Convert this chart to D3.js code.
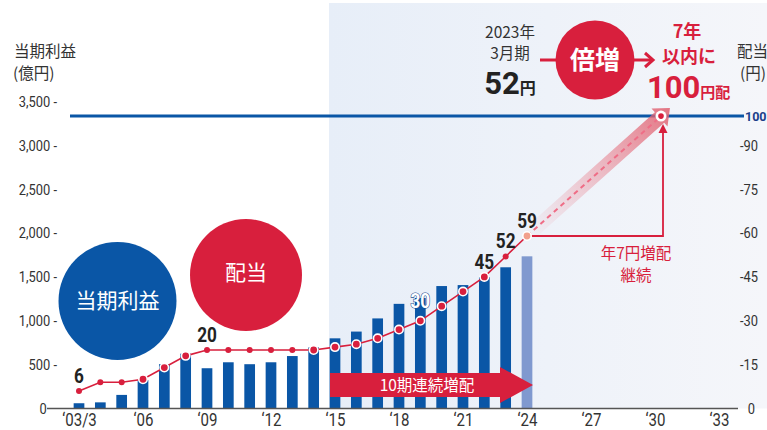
<!DOCTYPE html>
<html>
<head>
<meta charset="utf-8">
<script src="https://cdn.jsdelivr.net/npm/d3@7"></script>
<style>
body { margin: 0; background: #fff; }
svg { display: block; }
</style>
</head>
<body>
<div id="main"></div>
<script>
// data
var years = [2003, 2004, 2005, 2006, 2007, 2008, 2009, 2010, 2011, 2012, 2013,
             2014, 2015, 2016, 2017, 2018, 2019, 2020, 2021, 2022, 2023, 2024];
var profit = [60, 70, 155, 324, 505, 625, 459, 527, 505, 527, 598,
              696, 800, 877, 1027, 1193, 1260, 1396, 1407, 1498, 1610, 1735];
var dividend = [6, 9, 9, 10, 14, 18, 20, 20, 20, 20, 20,
                20, 21, 22, 24, 27, 30, 35, 40, 45, 52, 59];
var forecastYear = 2024;
var tickYears = [2003, 2006, 2009, 2012, 2015, 2018, 2021, 2024, 2027, 2030, 2033];
var tickLabels = ['‘03/3', '‘06', '‘09', '‘12', '‘15', '‘18', '‘21', '‘24', '‘27', '‘30', '‘33'];
var leftTicks = [0, 500, 1000, 1500, 2000, 2500, 3000, 3500];
var rightTicks = [0, 15, 30, 45, 60, 75, 90];
var calloutYears = [2003, 2009, 2019, 2022, 2023, 2024];
var targetYear = 2030, targetDividend = 100;

var W = 767, H = 430;
var red = '#d81f3d', blue = '#0a56a6';
var num = '"Roboto", sans-serif';
var jp = '"Noto Sans CJK JP", "Noto Sans", sans-serif';

var x = d3.scaleLinear().domain([2003, 2033]).range([79, 719]);
var yL = d3.scaleLinear().domain([0, 3500]).range([408.5, 101.5]);
var yR = d3.scaleLinear().domain([0, 105]).range([408.5, 101.5]);
var barW = 10.7;

var svg = d3.select('#main').append('svg')
    .attr('width', W).attr('height', H);

var defs = svg.append('defs');
var bgGrad = defs.append('linearGradient').attr('id', 'bgGrad');
bgGrad.append('stop').attr('offset', '0%').attr('stop-color', '#e7eef8');
bgGrad.append('stop').attr('offset', '100%').attr('stop-color', '#f5f6fa');

// shaded future panel
svg.append('rect')
    .attr('x', 329).attr('y', 3)
    .attr('width', W - 329).attr('height', 405.5)
    .attr('fill', 'url(#bgGrad)');

// 100 yen target line
svg.append('line')
    .attr('x1', 70).attr('x2', 744)
    .attr('y1', yR(targetDividend)).attr('y2', yR(targetDividend))
    .attr('stroke', blue).attr('stroke-width', 3);

// bars
svg.selectAll('.bar').data(years)
    .enter().append('rect')
    .attr('class', 'bar')
    .attr('x', function(d) { return x(d) - barW / 2; })
    .attr('width', barW)
    .attr('y', function(d, i) { return yL(profit[i]); })
    .attr('height', function(d, i) { return yL(0) - yL(profit[i]); })
    .attr('fill', function(d) { return d === forecastYear ? '#8099cf' : blue; });

// baseline
svg.append('line')
    .attr('x1', 47).attr('x2', 738)
    .attr('y1', 408.5).attr('y2', 408.5)
    .attr('stroke', '#555').attr('stroke-width', 1.5);

// axes (narrowed glyphs)
var leftAxis = svg.append('g')
    .attr('transform', 'translate(57,0)')
    .call(d3.axisLeft(yL).tickValues(leftTicks).tickSize(0).tickPadding(0)
        .tickFormat(function(d) { return d ? d3.format(',')(d) + ' -' : '0'; }));
leftAxis.select('.domain').remove();
leftAxis.selectAll('text')
    .attr('x', function(d) { return d ? 0 : -12; })
    .attr('transform', 'scale(0.86,1)')
    .style('font-family', num).style('font-size', '15px').attr('fill', '#333');

var rightAxis = svg.append('g')
    .attr('transform', 'translate(740,0)')
    .call(d3.axisRight(yR).tickValues(rightTicks).tickSize(0).tickPadding(0)
        .tickFormat(function(d) { return d ? '-' + d : '0'; }));
rightAxis.select('.domain').remove();
rightAxis.selectAll('text')
    .attr('x', function(d) { return d ? 0 : 9; })
    .attr('transform', 'scale(0.86,1)')
    .style('font-family', num).style('font-size', '15px').attr('fill', '#333');
svg.append('text')
    .attr('x', 745).attr('y', yR(targetDividend) + 4.5)
    .style('font-family', num).style('font-size', '12.5px').style('font-weight', 'bold')
    .attr('fill', '#1b3f8a').text(targetDividend);

var bottomAxis = svg.append('g')
    .attr('transform', 'translate(0,408.5)')
    .call(d3.axisBottom(x).tickValues(tickYears).tickSize(0).tickPadding(5)
        .tickFormat(function(d, i) { return tickLabels[i]; }));
bottomAxis.select('.domain').remove();
bottomAxis.selectAll('text')
    .attr('transform', 'scale(0.86,1)')
    .style('font-family', num).style('font-size', '17.5px').attr('fill', '#333');

// axis titles
var titleStyle = function(t) {
    return t.style('font-family', jp).style('font-size', '15.5px').attr('fill', '#333');
};
titleStyle(svg.append('text').attr('x', 14).attr('y', 57).text('当期利益'));
titleStyle(svg.append('text').attr('x', 13).attr('y', 79).text('(億円)'));
titleStyle(svg.append('text').attr('x', 737).attr('y', 57).text('配当'));
titleStyle(svg.append('text').attr('x', 740).attr('y', 79).text('(円)'));

// legend circles
svg.append('circle').attr('cx', 117.5).attr('cy', 301).attr('r', 59).attr('fill', blue);
svg.append('text').attr('x', 117.5).attr('y', 308)
    .attr('text-anchor', 'middle').attr('fill', '#fff')
    .style('font-family', jp).style('font-size', '21px').text('当期利益');
svg.append('circle').attr('cx', 246).attr('cy', 275).attr('r', 56).attr('fill', red);
svg.append('text').attr('x', 246).attr('y', 280)
    .attr('text-anchor', 'middle').attr('fill', '#fff')
    .style('font-family', jp).style('font-size', '21px').text('配当');

// 10 consecutive increases arrow
var arrowY = 385;
svg.append('path')
    .attr('d', 'M 330 ' + (arrowY - 12) + ' L 500 ' + (arrowY - 12) + ' L 500 ' + (arrowY - 18)
        + ' L 533 ' + arrowY + ' L 500 ' + (arrowY + 18) + ' L 500 ' + (arrowY + 12)
        + ' L 330 ' + (arrowY + 12) + ' Z')
    .attr('fill', red);
svg.append('text').attr('x', 427).attr('y', arrowY + 6)
    .attr('text-anchor', 'middle').attr('fill', '#fff')
    .style('font-family', jp).style('font-size', '15.5px').text('10期連続増配');

// projection band 2024 -> 2030
var p0 = [x(forecastYear), yR(dividend[dividend.length - 1])];
var p1 = [x(targetYear) + 6, yR(targetDividend)];
var dx = p1[0] - p0[0], dy = p1[1] - p0[1];
var len = Math.sqrt(dx * dx + dy * dy);
var ang = Math.atan2(dy, dx) * 180 / Math.PI;
var bandGrad = defs.append('linearGradient').attr('id', 'bandGrad')
    .attr('gradientUnits', 'userSpaceOnUse')
    .attr('x1', 0).attr('x2', len + 10).attr('y1', 0).attr('y2', 0);
bandGrad.append('stop').attr('offset', '0%').attr('stop-color', '#ec8a96').attr('stop-opacity', 0);
bandGrad.append('stop').attr('offset', '100%').attr('stop-color', '#e06070').attr('stop-opacity', 0.85);
var band = svg.append('g')
    .attr('transform', 'translate(' + p0[0] + ',' + p0[1] + ') rotate(' + ang + ')');
var L = len + 12;
band.append('path')
    .attr('d', 'M 0 -7 L ' + (L - 14) + ' -7 L ' + (L - 14) + ' -12 L ' + L + ' 0 L '
        + (L - 14) + ' 12 L ' + (L - 14) + ' 7 L 0 7 Z')
    .attr('fill', 'url(#bandGrad)');
svg.append('line')
    .attr('x1', p0[0]).attr('y1', p0[1]).attr('x2', p1[0]).attr('y2', p1[1])
    .attr('stroke', '#ef6d86').attr('stroke-width', 2).attr('stroke-dasharray', '5,4');

// 7 yen per year L-arrow
svg.append('path')
    .attr('d', 'M ' + p0[0] + ' ' + p0[1] + ' H ' + (p1[0] + 2) + ' V ' + (p1[1] + 16))
    .attr('fill', 'none').attr('stroke', red).attr('stroke-width', 1.8);
svg.append('path')
    .attr('d', 'M ' + (p1[0] - 2.5) + ' ' + (p1[1] + 17) + ' L ' + (p1[0] + 2) + ' ' + (p1[1] + 8)
        + ' L ' + (p1[0] + 6.5) + ' ' + (p1[1] + 17) + ' Z')
    .attr('fill', red);
svg.append('text').attr('x', 636).attr('y', 259)
    .attr('text-anchor', 'middle').attr('fill', red)
    .style('font-family', jp).style('font-size', '15.5px').text('年7円増配');
svg.append('text').attr('x', 636).attr('y', 281)
    .attr('text-anchor', 'middle').attr('fill', red)
    .style('font-family', jp).style('font-size', '15.5px').text('継続');

svg.append('circle').attr('cx', p1[0]).attr('cy', p1[1]).attr('r', 5.5)
    .attr('fill', '#fff');
svg.append('circle').attr('cx', p1[0]).attr('cy', p1[1]).attr('r', 2.8)
    .attr('fill', red);

// dividend line
var pts = years.map(function(d, i) { return [x(d), yR(dividend[i]), d, i]; });
svg.append('path')
    .attr('d', d3.line()(pts.map(function(p) { return [p[0], p[1]]; })))
    .attr('fill', 'none').attr('stroke', red).attr('stroke-width', 1.6);

svg.selectAll('.dot').data(pts)
    .enter().append('circle')
    .attr('class', 'dot')
    .attr('cx', function(p) { return p[0]; })
    .attr('cy', function(p) { return p[1]; })
    .attr('r', function(p) {
        if (p[2] === forecastYear) return 4.2;
        return p[1] > yL(profit[p[3]]) - 3 ? 4.2 : 3;
    })
    .attr('fill', function(p) { return p[2] === forecastYear ? '#f1a08d' : red; })
    .attr('stroke', function(p) {
        if (p[2] === forecastYear) return '#fff';
        return p[1] > yL(profit[p[3]]) - 3 ? '#fff' : 'none';
    })
    .attr('stroke-width', 1.6);

// callout numbers
svg.selectAll('.callout').data(calloutYears)
    .enter().append('text')
    .attr('class', 'callout')
    .attr('transform', function(d) {
        var v = dividend[years.indexOf(d)];
        return 'translate(' + x(d) + ',' + (yR(v) - (v === 30 ? 12.5 : 8)) + ') scale(0.86,1)';
    })
    .attr('text-anchor', 'middle')
    .style('font-family', num).style('font-size', '20px').style('font-weight', 'bold')
    .attr('fill', function(d) { return dividend[years.indexOf(d)] === 30 ? '#fff' : '#222'; })
    .attr('stroke', function(d) { return dividend[years.indexOf(d)] === 30 ? '#1d4f8f' : 'none'; })
    .attr('stroke-width', 1.2)
    .attr('paint-order', 'stroke')
    .text(function(d) { return dividend[years.indexOf(d)]; });

// top annotation
svg.append('text').attr('x', 510).attr('y', 38).attr('text-anchor', 'middle')
    .attr('fill', '#333').style('font-family', jp).style('font-size', '15.5px').text('2023年');
svg.append('text').attr('x', 510).attr('y', 59).attr('text-anchor', 'middle')
    .attr('fill', '#333').style('font-family', jp).style('font-size', '15.5px').text('3月期');
var t52 = svg.append('text').attr('x', 510).attr('y', 94).attr('text-anchor', 'middle')
    .attr('fill', '#222').style('font-family', num).style('font-weight', 'bold');
t52.append('tspan').style('font-size', '31px').text('52');
t52.append('tspan').style('font-size', '16px').style('font-family', jp).text('円');

svg.append('line').attr('x1', 540).attr('x2', 560).attr('y1', 60).attr('y2', 60)
    .attr('stroke', red).attr('stroke-width', 3);
svg.append('circle').attr('cx', 595).attr('cy', 60).attr('r', 39.5).attr('fill', red);
svg.append('text').attr('x', 595).attr('y', 69).attr('text-anchor', 'middle')
    .attr('fill', '#fff').style('font-family', jp).style('font-size', '25px')
    .style('font-weight', 'bold').text('倍増');
svg.append('line').attr('x1', 634).attr('x2', 651).attr('y1', 60).attr('y2', 60)
    .attr('stroke', red).attr('stroke-width', 3);
svg.append('path').attr('d', 'M 645 53 L 653 60 L 645 67')
    .attr('fill', 'none').attr('stroke', red).attr('stroke-width', 3);

svg.append('text').attr('x', 687).attr('y', 38).attr('text-anchor', 'middle')
    .attr('fill', red).style('font-family', jp).style('font-size', '18px')
    .style('font-weight', 'bold').text('7年');
svg.append('text').attr('x', 689).attr('y', 63).attr('text-anchor', 'middle')
    .attr('fill', red).style('font-family', jp).style('font-size', '18px')
    .style('font-weight', 'bold').text('以内に');
var t100 = svg.append('text').attr('x', 647).attr('y', 98)
    .attr('fill', red).style('font-family', num).style('font-weight', 'bold');
t100.append('tspan').style('font-size', '31px').text(targetDividend);
t100.append('tspan').style('font-size', '15px').style('font-family', jp).text('円配');
</script>
</body>
</html>
